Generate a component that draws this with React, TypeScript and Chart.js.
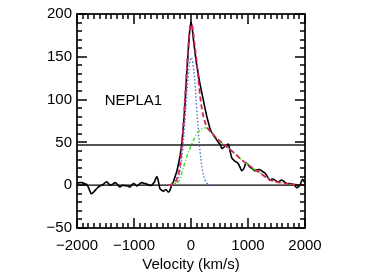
import React, { useEffect, useRef } from "react";
import { Chart, registerables } from "chart.js";

Chart.register(...registerables);

// Observed spectrum (black)
const spectrumVel = [-2000,-1960,-1920,-1870,-1830,-1790,-1750,-1710,-1680,-1640,-1600,-1540,-1480,-1450,-1420,-1380,-1330,-1290,-1250,-1200,-1160,-1110,-1070,-1040,-1010,-980,-950,-910,-870,-820,-780,-730,-690,-640,-600,-570,-545,-510,-485,-440,-400,-370,-340,-310,-280,-250,-220,-190,-165,-135,-105,-80,-60,-40,-20,0,20,40,65,90,120,150,180,215,245,275,310,345,380,420,450,480,510,540,570,600,630,655,685,715,740,770,800,830,860,890,930,965,1000,1035,1080,1120,1165,1210,1255,1300,1340,1375,1410,1445,1490,1530,1560,1590,1635,1680,1720,1770,1810,1855,1885,1910,1935,1960,1980,2000];
const spectrumFlux = [2,3,3,2,1,-4,-10,-8,-6,-3,-1,1,4,2,0,1,3,1,-2,0,-0.5,-1,-2,0,2,1,-1,1,3,2,1.5,0,0,4,10,4,-4,-6,-7,-5,-8,-6,0,4,10,16,25,35,47,68,95,125,145,165,182,190,184,172,158,145,133,121,111,100,90,81,72,64,60,56,53,50,48,43,44,46,47,48,40,32,30,28,27,25,21,17,20,26,24,21,19,17,18,18,16,14,10,6,7,7,5,4,5,6,4,2,2,1.5,0,-3,-2,0,4,7,5,2];

// Fit components
const fitVel = [-400,-350,-300,-250,-200,-150,-100,-50,-25,0,25,50,75,100,150,200,250,300,350,400,450,500,600,700,800,900,1000,1100,1200,1300,1400,1500,1600,1700,1800,1900,2000];
const fitTotal = [0,0.6,2.4,7,20,55,108,160,180,188,185,172,158,145,110,86,73,66,62,58.5,55,52,46.5,41,35,29,24,19,15,10,6,4,2.5,1.5,0.8,0.3,0];
const broadComp = [0,0.5,1.5,3,6,17,28,38,42,46,50,53,57,60,64,66,67,65.5,62,58.5,55,52,46.5,41,35,29,24,19,15,10,6,4,2.5,1.5,0.8,0.3,0];
const narrowVel = [-350,-300,-250,-200,-150,-100,-50,0,50,100,150,200,250,300,350];
const narrowComp = [0.1,0.9,4,14.5,39,81,126,149,133,90,46,18,5.3,1.2,0.2];

// Reference levels
const refLevels = [0, 47];
const xRange = [-2000, 2000];
const yRange = [-50, 200];
const xTicks = [-2000, -1000, 0, 1000, 2000];
const yTicks = [-50, 0, 50, 100, 150, 200];
const labelText = "NEPLA1";
const labelPos = { x: -1515, y: 98 };

const FONT = "'Liberation Sans', Arial, Helvetica, sans-serif";
const fmt = (v: number) => String(v).replace("-", "\u2212");
const pts = (xs: number[], ys: number[]) => xs.map((x, i) => ({ x, y: ys[i] }));

const framePlugin = {
  id: "idlFrame",
  afterDatasetsDraw(chart: any) {
    const { ctx, chartArea: a, scales } = chart;
    const xs = scales.x, ys = scales.y;
    ctx.save();
    ctx.strokeStyle = "#000";
    ctx.lineWidth = 1.5;
    ctx.beginPath();
    for (let v = xRange[0]; v <= xRange[1]; v += 100) {
      const px = Math.round(xs.getPixelForValue(v));
      const len = v % 1000 === 0 ? 10 : 5;
      ctx.moveTo(px, a.bottom); ctx.lineTo(px, a.bottom - len);
      ctx.moveTo(px, a.top); ctx.lineTo(px, a.top + len);
    }
    for (let v = yRange[0]; v <= yRange[1]; v += 10) {
      const py = Math.round(ys.getPixelForValue(v));
      const len = v % 50 === 0 ? 10 : 5;
      ctx.moveTo(a.left, py); ctx.lineTo(a.left + len, py);
      ctx.moveTo(a.right, py); ctx.lineTo(a.right - len, py);
    }
    ctx.stroke();
    ctx.lineWidth = 1.7;
    ctx.strokeRect(a.left, a.top, a.right - a.left, a.bottom - a.top);
    ctx.fillStyle = "#000";
    ctx.font = `15px ${FONT}`;
    ctx.textAlign = "left";
    ctx.textBaseline = "middle";
    ctx.fillText(labelText, xs.getPixelForValue(labelPos.x), ys.getPixelForValue(labelPos.y));
    ctx.restore();
  },
};

export default function App() {
  const ref = useRef<HTMLCanvasElement>(null);
  useEffect(() => {
    if (!ref.current) return;
    const chart = new Chart(ref.current, {
      type: "line",
      data: {
        datasets: [
          {
            data: pts(fitVel, fitTotal), borderColor: "#d8205c", borderWidth: 1.8,
            borderDash: [5, 3], pointRadius: 0, tension: 0.4, order: 0,
          },
          {
            data: pts(fitVel, broadComp), borderColor: "#3fdc1c", borderWidth: 1.4,
            borderDash: [4, 2, 1, 2], pointRadius: 0, tension: 0.4, order: 1,
          },
          {
            data: pts(narrowVel, narrowComp), borderColor: "#4a78dc", borderWidth: 1.4,
            borderDash: [1.5, 2], pointRadius: 0, tension: 0.4, order: 2,
          },
          {
            data: pts(spectrumVel, spectrumFlux), borderColor: "#000", borderWidth: 1.6,
            pointRadius: 0, tension: 0.3, order: 3,
          },
          {
            data: pts(xRange, [refLevels[0], refLevels[0]]), borderColor: "#000", borderWidth: 1.2,
            pointRadius: 0, order: 4,
          },
          {
            data: pts(xRange, [refLevels[1], refLevels[1]]), borderColor: "#555", borderWidth: 2,
            pointRadius: 0, order: 4,
          },
        ],
      },
      options: {
        animation: false,
        responsive: false,
        devicePixelRatio: 1,
        layout: { padding: { top: 13, right: 77, left: 0, bottom: 0 } },
        plugins: { legend: { display: false }, tooltip: { enabled: false } },
        scales: {
          x: {
            type: "linear", min: xRange[0], max: xRange[1],
            afterBuildTicks: (s: any) => { s.ticks = xTicks.map((v) => ({ value: v })); },
            afterFit: (s: any) => { s.height = 45; },
            ticks: { callback: (v: any) => fmt(v), color: "#000", font: { family: FONT, size: 15 }, padding: 9, maxRotation: 0, autoSkip: false },
            grid: { display: false, drawTicks: false },
            border: { display: false },
            title: { display: true, text: "Velocity (km/s)", color: "#000", font: { family: FONT, size: 15 }, padding: { top: 0, bottom: -1 } },
          },
          y: {
            type: "linear", min: yRange[0], max: yRange[1],
            afterBuildTicks: (s: any) => { s.ticks = yTicks.map((v) => ({ value: v })); },
            afterFit: (s: any) => { s.width = 77; },
            ticks: { callback: (v: any) => fmt(v), color: "#000", font: { family: FONT, size: 15 }, padding: 5, autoSkip: false },
            grid: { display: false, drawTicks: false },
            border: { display: false },
          },
        },
      },
      plugins: [framePlugin],
    } as any);
    return () => chart.destroy();
  }, []);
  return (
    <div style={{ position: "fixed", left: 0, top: 0, width: 382, height: 273, background: "#fff" }}>
      <canvas ref={ref} width={382} height={273} />
    </div>
  );
}
